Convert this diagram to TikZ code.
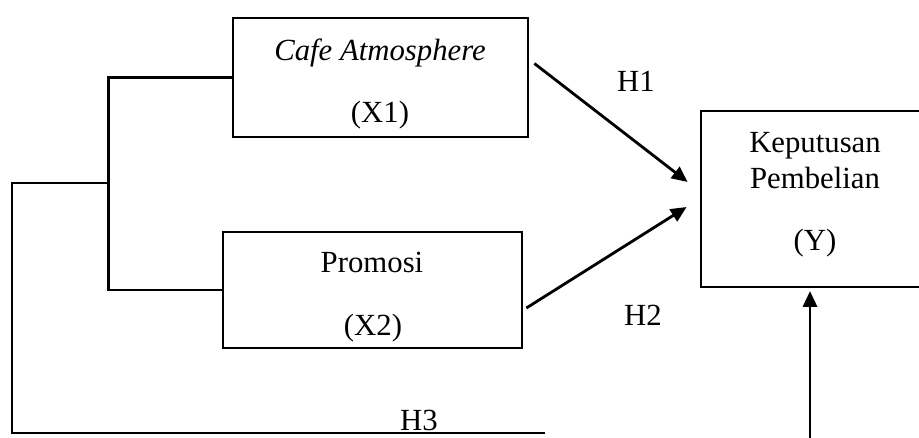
\documentclass[tikz,border=0pt]{standalone}
\usepackage{fontspec}
\setmainfont{Liberation Serif}
\usetikzlibrary{arrows.meta,positioning,calc}

\tikzset{
    box/.style={draw, line width=1.6pt, inner sep=0pt},
    lbl/.style={anchor=base, inner sep=0pt, font=\fontsize{17.5}{20.5}\selectfont},
    link/.style={line width=1.6pt},
    arr/.style={line width=1.6pt, -{Triangle[length=9pt,width=8pt]}},
}

\begin{document}
\begin{tikzpicture}[x=0.02cm, y=-0.02cm]
            \useasboundingbox (0,0) rectangle (919,437);
            % variables
            \node[box, minimum width=5.9cm, minimum height=2.38cm] (x1) at (380.5,77.5) {};
            \node[box, minimum width=5.98cm, minimum height=2.32cm] (x2) at (372.5,290) {};
            \node[box, minimum width=4.56cm, minimum height=3.52cm] (y) at (815,199) {};
            \node[lbl] (x1name) at (380,60) {\textit{Cafe Atmosphere}};
            \node[lbl] (x1code) at (380,122) {(X1)};
            \node[lbl] (x2name) at (372,272) {Promosi};
            \node[lbl] (x2code) at (373,335) {(X2)};
            \node[lbl] (yname) at (815,152) {Keputusan};
            \node[lbl] (ynametwo) at (815,188) {Pembelian};
            \node[lbl] (ycode) at (815,250) {(Y)};
            % hypotheses
            \node[lbl] (h1) at (636,91) {H1};
            \node[lbl] (h2) at (643,325) {H2};
            \node[lbl] (h3) at (419,430) {H3};
            \coordinate (split) at (110,183);
            \coordinate (h3end) at (545,433);
            \coordinate (h3up) at (810,440);
            \draw[link] (x1.west) -- ++(-123,0) |- (x2.west);
            \draw[link] (split) -- ++(-98,0) |- (h3end);
            \draw[arr] ([shift={(5,-14)}]x1.east) -- ([shift={(-12,-17)}]y.west);
            \draw[arr] ([shift={(3,18)}]x2.east) -- ([shift={(-13,8)}]y.west);
            \draw[arr, shorten >=1.5pt] (h3up) -- (h3up |- y.south);
        \end{tikzpicture}
\end{document}
